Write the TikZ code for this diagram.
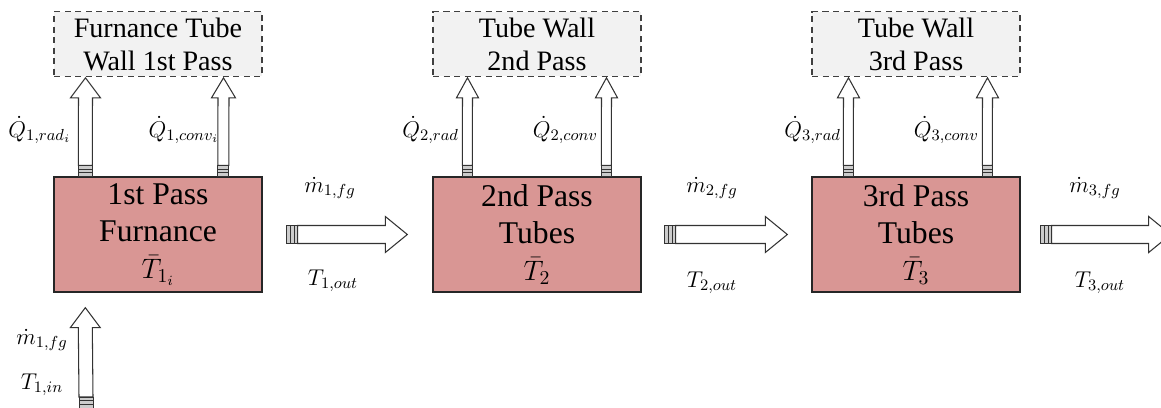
\RequirePackage{fix-cm}
\documentclass[tikz,border=0pt]{standalone}
\usepackage{amsmath}
\usepackage{fontspec}
\setmainfont{Liberation Serif}
\usetikzlibrary{calc}

\definecolor{passred}{HTML}{D99694}
\definecolor{wallgray}{HTML}{F2F2F2}

\tikzset{
  passbox/.style={draw=black!85, fill=passred, line width=0.8pt,
    minimum width=4.16cm, minimum height=2.3cm, align=center,
    font=\fontsize{18}{21}\selectfont},
  wallbox/.style={draw=black!75, fill=wallgray, line width=0.6pt,
    dash pattern=on 3.5pt off 2.5pt,
    minimum width=4.16cm, minimum height=1.28cm, align=center,
    font=\fontsize{16}{18.8}\selectfont},
  blockarrow/.style={draw=black!80, fill=white, line width=0.6pt, line join=miter},
  arrowtail/.style={draw=black!80, fill=black!20, line width=0.5pt},
  lbl/.style={font=\fontsize{13}{15}\selectfont, inner sep=1pt}
}

% block arrow up: tail, tip, half shaft, half head
\newcommand{\blockup}[4]{%
  \draw[blockarrow] ($(#1)+(-#3,-11)$) -- ($(#2)+(-#3,20)$) -- ($(#2)+(-#4,20)$)
    -- (#2) -- ($(#2)+(#4,20)$) -- ($(#2)+(#3,20)$) -- ($(#1)+(#3,-11)$) -- cycle;
  \draw[arrowtail] ($(#1)+(-#3,0)$) rectangle ($(#1)+(#3,-11)$);
  \draw[black!80, line width=0.5pt] ($(#1)+(-#3,-3.7)$) -- ++(2*#3,0)
    ($(#1)+(-#3,-7.3)$) -- ++(2*#3,0);
}
% block arrow right: tail, tip, half shaft, half head
\newcommand{\blockright}[4]{%
  \draw[blockarrow] ($(#1)+(11,-#3)$) -- ($(#2)+(-22,-#3)$) -- ($(#2)+(-22,-#4)$)
    -- (#2) -- ($(#2)+(-22,#4)$) -- ($(#2)+(-22,#3)$) -- ($(#1)+(11,#3)$) -- cycle;
  \draw[arrowtail] ($(#1)+(0,-#3)$) rectangle ($(#1)+(11,#3)$);
  \draw[black!80, line width=0.5pt] ($(#1)+(3.7,-#3)$) -- ++(0,2*#3)
    ($(#1)+(7.3,-#3)$) -- ++(0,2*#3);
}

\begin{document}
\begin{tikzpicture}[x=0.02cm, y=-0.02cm]

\useasboundingbox (0,0) rectangle (1161,408);
\clip (0,0) rectangle (1161,408);

% passes
\node[passbox] (pass1) at (158,234.5) {1st Pass\\Furnance\\{\fontsize{16}{18}\selectfont$\bar{T}_{1_i}$}};
\node[passbox] (pass2) at (537,234.5) {2nd Pass\\Tubes\\{\fontsize{16}{18}\selectfont$\bar{T}_{2}$}};
\node[passbox] (pass3) at (916,234.5) {3rd Pass\\Tubes\\{\fontsize{16}{18}\selectfont$\bar{T}_{3}$}};

% tube walls
\node[wallbox] (wall1) at (158,44) {Furnance Tube\\Wall 1st Pass};
\node[wallbox] (wall2) at (537,44) {Tube Wall\\2nd Pass};
\node[wallbox] (wall3) at (916,44) {Tube Wall\\3rd Pass};

% heat flows
\coordinate (rad1) at ($(pass1.north west)+(32,0)$);
\coordinate (conv1) at ($(pass1.north west)+(170,0)$);
\coordinate (rad2) at ($(pass2.north west)+(35,0)$);
\coordinate (conv2) at ($(pass2.north west)+(174,0)$);
\coordinate (rad3) at ($(pass3.north west)+(37,0)$);
\coordinate (conv3) at ($(pass3.north west)+(176,0)$);

\blockup{rad1}{$(wall1.south west)+(32,1)$}{7}{15}
\blockup{conv1}{$(wall1.south west)+(170,1)$}{5.5}{12}
\blockup{rad2}{$(wall2.south west)+(35,1)$}{5}{11}
\blockup{conv2}{$(wall2.south west)+(174,1)$}{5}{11}
\blockup{rad3}{$(wall3.south west)+(37,1)$}{5}{11}
\blockup{conv3}{$(wall3.south west)+(176,1)$}{5}{11}

\node[lbl, anchor=east] (qrad1) at (73,130) {$\dot{Q}_{1,rad_i}$};
\node[lbl, anchor=east] (qconv1) at (221,130) {$\dot{Q}_{1,conv_i}$};
\node[lbl, anchor=east] (qrad2) at (461,130) {$\dot{Q}_{2,rad}$};
\node[lbl, anchor=east] (qconv2) at (600,130) {$\dot{Q}_{2,conv}$};
\node[lbl, anchor=east] (qrad3) at (843,130) {$\dot{Q}_{3,rad}$};
\node[lbl, anchor=east] (qconv3) at (981,130) {$\dot{Q}_{3,conv}$};

% flue gas
\coordinate (out1) at ($(pass1.east)+(24,0)$);
\coordinate (out2) at ($(pass2.east)+(23,0)$);
\coordinate (out3) at ($(pass3.east)+(20,0)$);
\coordinate (inlet) at (86,408);

\blockright{out1}{$(pass2.west)+(-25,0)$}{9}{18}
\blockright{out2}{$(pass3.west)+(-24,0)$}{9}{18}
\blockright{out3}{$(pass3.east)+(150,0)$}{9}{18}
\blockup{inlet}{$(pass1.south west)+(32,15)$}{7}{15}

\node[lbl] (mfg1) at (330,188) {$\dot{m}_{1,fg}$};
\node[lbl] (tout1) at (333,281) {$T_{1,out}$};
\node[lbl] (mfg2) at (712,188) {$\dot{m}_{2,fg}$};
\node[lbl] (tout2) at (712,283) {$T_{2,out}$};
\node[lbl] (mfg3) at (1095,188) {$\dot{m}_{3,fg}$};
\node[lbl] (tout3) at (1100,283) {$T_{3,out}$};
\node[lbl] (mfgin) at (42,340) {$\dot{m}_{1,fg}$};
\node[lbl] (tin) at (42,385) {$T_{1,in}$};

\end{tikzpicture}
\end{document}
